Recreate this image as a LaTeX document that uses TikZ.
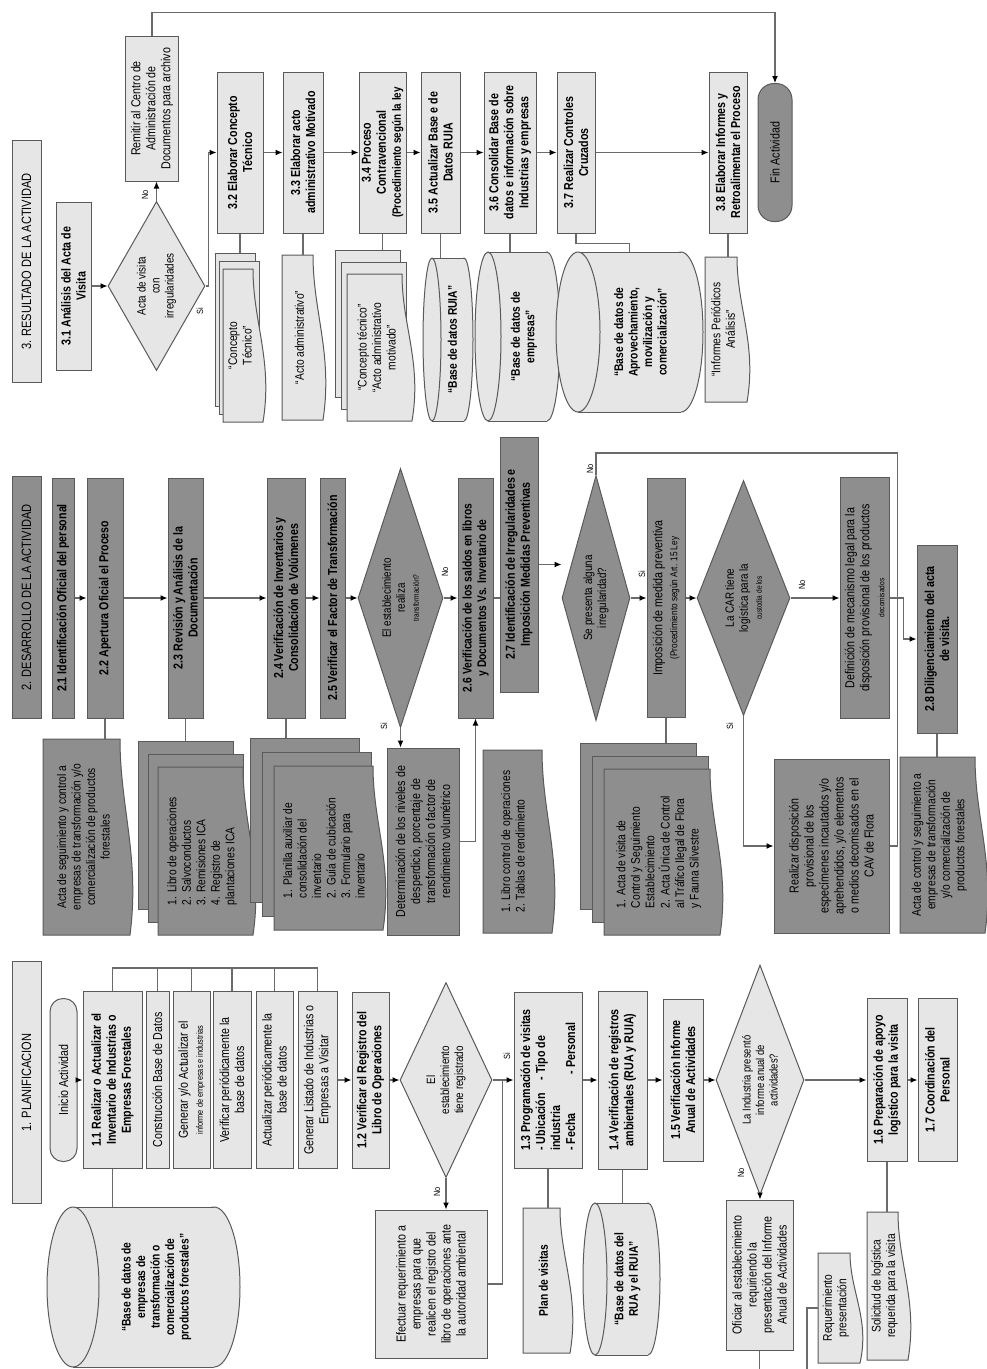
\documentclass[tikz,border=0pt]{standalone}
\usepackage{fontspec}
\setmainfont{Liberation Sans}[FakeStretch=0.82]
\usetikzlibrary{positioning,arrows.meta,shapes.geometric,calc}
\definecolor{boxlight}{HTML}{E6E6E6}
\definecolor{boxdark}{HTML}{8E8E8E}
\definecolor{boxline}{HTML}{5A5A5A}
\definecolor{connline}{HTML}{6A6A6A}

% one sheet of a document, wavy edge on the right
\newcommand{\docsheet}[5]{%
  \pgfmathsetmacro\shA{#1}\pgfmathsetmacro\shB{#2}%
  \pgfmathsetmacro\shC{#3}\pgfmathsetmacro\shD{#4}%
  \pgfmathsetmacro\shH{\shD-\shB}%
  \draw[#5] (\shA,\shB) -- ({\shC-10},\shB)
    .. controls ({\shC-10},{\shB+0.35*\shH}) and ({\shC+10},{\shB+0.6*\shH}) .. (\shC,\shD)
    -- (\shA,\shD) -- cycle;}
% single document: name, x1, y1, x2, y2, sheet style, text
\newcommand{\onedoc}[7]{%
  \docsheet{#2}{#3}{#4}{#5}{#6}%
  \coordinate (#1-t) at ({(#2+#4)/2},#3);%
  \coordinate (#1-l) at (#2,{(#3+#5)/2});%
  \node[doctext] (#1) at ({(#2+#4)/2-3},{(#3+#5)/2}) {#7};}
% stack of three documents: name, x1, y1, x2, y2, dx, dy, sheet style, text
\newcommand{\multidoc}[9]{%
  \draw[#8] (#2,#3) rectangle ({#4-2*#6},{#5-2*#7});%
  \draw[#8] ({#2+#6},{#3+#7}) rectangle ({#4-#6},{#5-#7});%
  \docsheet{#2+2*#6}{#3+2*#7}{#4}{#5}{#8}%
  \coordinate (#1-t) at ({(#2+#4)/2},#3);%
  \node[doctext] (#1) at ({(#2+2*#6+#4)/2-3},{(#3+2*#7+#5)/2}) {#9};}
% data base lying on its side: name, x1, y1, x2, y2, end radius, text
\newcommand{\dbase}[7]{%
  \pgfmathsetmacro\cyM{(#3+#5)/2}\pgfmathsetmacro\cyR{(#5-#3)/2}%
  \pgfmathsetmacro\cyL{#2+#6}\pgfmathsetmacro\cyE{#4-#6}%
  \draw[sheetL] (\cyE,\cyM) ellipse[x radius=#6pt, y radius=\cyR pt];%
  \fill[boxlight] (\cyL,#3) rectangle (\cyE,#5);%
  \draw[draw=boxline, line width=1pt] (\cyL,#3) -- (\cyE,#3) (\cyL,#5) -- (\cyE,#5);%
  \draw[sheetL] (\cyL,\cyM) ellipse[x radius=#6pt, y radius=\cyR pt];%
  \coordinate (#1-t) at ({(#2+#4)/2},#3);%
  \node[dbtext] (#1) at ({(#2+#4)/2+#6/2},\cyM) {#7};}

\begin{document}
\begin{tikzpicture}[x=1pt, y=-1pt,
  line/.style={draw=connline, line width=1.2pt},
  arr/.style={line, -{Latex[length=7pt, width=6pt, color=black]}},
  proc/.style={draw=boxline, line width=1pt, fill=boxlight, rotate=90, align=center,
               inner sep=1pt, font=\fontsize{13}{15}\selectfont\bfseries},
  sub/.style={proc, font=\fontsize{13}{15}\selectfont},
  dproc/.style={proc, fill=boxdark},
  dsub/.style={sub, fill=boxdark},
  term/.style={sub, rounded corners=13pt},
  hdr/.style={sub, font=\fontsize{13.5}{15}\selectfont, minimum width=242, minimum height=29},
  dec/.style={diamond, draw=boxline, line width=1pt, fill=boxlight, rotate=90,
              align=center, inner sep=0pt, font=\fontsize{12}{14}\selectfont},
  ddec/.style={dec, fill=boxdark},
  sheetL/.style={draw=boxline, line width=1pt, fill=boxlight},
  sheetD/.style={sheetL, fill=boxdark},
  doctext/.style={rotate=90, align=center, inner sep=0pt, font=\fontsize{12.5}{14.5}\selectfont},
  dbtext/.style={doctext, font=\fontsize{12.5}{14.5}\selectfont\bfseries},
  lab/.style={rotate=90, inner sep=1pt, font=\fontsize{9}{10}\selectfont}
]
\fill[white] (0,0) rectangle (987,1369);
\useasboundingbox (0,0) rectangle (987,1369);
% ----- lane headers -----
\node[hdr] (hd3) at (26.5,261.5) {3. RESULTADO DE LA ACTIVIDAD};
\node[hdr, fill=boxdark] (hd2) at (26.5,597.5) {2. DESARROLLO DE LA ACTIVIDAD};
\node[hdr] (hd1) at (26.5,1082.5) {1. PLANIFICACION};

% ----- lane 3: resultado -----
\node[proc, minimum width=168, minimum height=35] (n31) at (73.5,286) {3.1 Análisis del Acta de\\Visita};
\node[dec, aspect=1.75, minimum width=169, minimum height=97] (d31) at (156.5,286)
  {Acta de visita\\con\\irregularidades};
\node[sub, minimum width=145, minimum height=53] (nrem) at (152,108.5)
  {Remitir al Centro de\\Administración de\\Documentos para archivo};
\node[proc, minimum width=161, minimum height=46] (n32) at (240,152.5) {3.2 Elaborar Concepto\\Técnico};
\node[proc, minimum width=161, minimum height=40] (n33) at (303,152.5) {3.3 Elaborar acto\\administrativo Motivado};
\node[proc, minimum width=161, minimum height=47] (n34) at (382.5,152.5)
  {3.4 Proceso\\Contravencional\\{\fontsize{12}{13}\selectfont(Procedimiento según la ley}};
\node[proc, minimum width=161, minimum height=39] (n35) at (440.5,152.5) {3.5 Actualizar Base e de\\Datos RUIA};
\node[proc, minimum width=161, minimum height=52] (n36) at (510,152.5)
  {3.6 Consolidar Base de\\datos e información sobre\\Industrias y empresas};
\node[proc, minimum width=161, minimum height=38] (n37) at (576,152.5) {3.7 Realizar Controles\\Cruzados};
\node[proc, minimum width=161, minimum height=38] (n38) at (728,152.5) {3.8 Elaborar Informes y\\Retroalimentar el Proceso};
\node[term, fill=boxdark, rounded corners=16pt, minimum width=138, minimum height=34] (fin) at (775,152.5) {Fin Actividad};

\multidoc{m32}{215}{253}{263}{422}{4}{8}{sheetL}{“Concepto\\Técnico”}
\onedoc{m33}{282}{255}{323}{420}{sheetL}{“Acto administrativo”}
\multidoc{m34}{335}{250}{412}{421}{6}{12}{sheetL}{“Concepto técnico”\\“Acto administrativo\\motivado”}
\dbase{c35}{423}{258}{473}{421}{9}{“Base de datos RUIA”}
\dbase{c36}{475}{252}{560}{421}{13}{“Base de datos de\\empresas”}
\dbase{c37}{556}{252}{703}{412}{22}{“Base de datos de\\Aprovechamiento,\\movilización y\\comercialización”}
\onedoc{d38}{705}{257}{747}{402}{sheetL}{“Informes Periódicos\\Análisis”}

% ----- lane 2: desarrollo -----
\node[dproc, minimum width=240, minimum height=22] (n21) at (63,598) {2.1 Identificación Oficial del personal};
\node[dproc, minimum width=240, minimum height=36] (n22) at (105,598) {2.2 Apertura Oficial el Proceso};
\node[dproc, minimum width=240, minimum height=35] (n23) at (185.5,598) {2.3 Revisión y Análisis de la\\Documentación};
\node[dproc, minimum width=240, minimum height=38] (n24) at (286,598)
  {2.4 Verificación de Inventarios y\\Consolidación de Volúmenes};
\node[dproc, minimum width=240, minimum height=25] (n25) at (332.5,598) {2.5 Verificar el Factor de Transformación};
\node[ddec, aspect=3, minimum width=259, minimum height=85] (d25) at (400.5,598)
  {El establecimiento\\realiza\\{\fontsize{8}{9}\selectfont transformación?}};
\node[dproc, minimum width=240, minimum height=35, font=\fontsize{12.5}{14.5}\selectfont\bfseries] (n26) at (475.5,598)
  {2.6 Verificación de los saldos en libros\\y Documentos Vs. Inventario de};
\node[dproc, minimum width=255, minimum height=38] (n27) at (519,564.5)
  {2.7 Identificación de Irregularidades e\\Imposición Medidas Preventivas};
\node[ddec, aspect=3.6, minimum width=245, minimum height=68] (d27) at (596,598)
  {Se presenta alguna\\irregularidad?};
\node[dsub, minimum width=239, minimum height=38] (nimp) at (666,598)
  {Imposición de medida preventiva\\{\fontsize{10}{11}\selectfont(Procedimiento según Art. 15 Ley}};
\node[ddec, aspect=2.5, minimum width=235, minimum height=93] (dcar) at (743.5,598)
  {La CAR tiene\\logística para la\\{\fontsize{8}{9}\selectfont custodia de los}};
\node[dsub, minimum width=241, minimum height=49] (ndef) at (864.5,598)
  {Definición de mecanismo legal para la\\disposición provisional de los productos\\{\fontsize{8}{9}\selectfont decomisados}};
\node[dproc, minimum width=188, minimum height=40] (n28) at (937,639) {2.8 Diligenciamiento del acta\\de visita.};
\node[dsub, minimum width=187, minimum height=72] (ndet) at (423,841.5)
  {Determinación de los niveles de\\desperdicio, porcentaje de\\transformación o factor de\\rendimiento volumétrico};
\node[dsub, minimum width=174, minimum height=115] (nreal) at (831.5,846)
  {Realizar disposición\\provisional de los\\especímenes incautados y/o\\aprehendidos, y/o elementos\\o medios decomisados en el\\CAV de Flora};

\onedoc{d22}{43}{739}{130}{935}{sheetD}{Acta de seguimiento y control a\\empresas de transformación y/o\\comercialización de productos\\forestales}
\multidoc{m23}{138}{741}{253}{935}{10}{13}{sheetD}{\begin{tabular}{@{}l@{}}1. Libro de operaciones\\2. Salvoconductos\\3. Remisiones ICA\\4. Registro de\\plantaciones ICA\end{tabular}}
\multidoc{m24}{250}{738}{383}{930}{12}{14}{sheetD}{\begin{tabular}{@{}l@{}}1. Planilla auxiliar de\\consolidación del\\inventario\\2. Guía de cubicación\\3. Formulario para\\inventario\end{tabular}}
\onedoc{d26}{483}{750}{552}{933}{sheetD}{\begin{tabular}{@{}l@{}}1. Libro control de operaciones\\2. Tablas de rendimiento\end{tabular}}
\multidoc{mimp}{580}{743}{720}{935}{12}{13}{sheetD}{\begin{tabular}{@{}l@{}}1. Acta de visita de\\Control y Seguimiento\\Establecimiento\\2. Acta Única de Control\\al Tráfico Ilegal de Flora\\y Fauna Silvestre\end{tabular}}
\onedoc{d28}{900}{757}{985}{933}{sheetD}{Acta de control y seguimiento a\\empresas de transformación\\y/o comercialización de\\productos forestales}

% ----- lane 1: planificacion -----
\node[term, minimum width=163, minimum height=27] (ini) at (63.5,1080) {Inicio Actividad};
\node[proc, minimum width=177, minimum height=59] (n11) at (112.5,1080)
  {1.1 Realizar o Actualizar el\\Inventario de Industrias o\\Empresas Forestales};
\node[sub, minimum width=177, minimum height=23] (s1) at (157.5,1080) {Construcción Base de Datos};
\node[sub, minimum width=177, minimum height=37] (s2) at (191.5,1080)
  {Generar y/o Actualizar el\\{\fontsize{9}{10}\selectfont informe de empresas e industrias}};
\node[sub, minimum width=177, minimum height=38] (s3) at (232,1080) {Verificar periódicamente la\\base de datos};
\node[sub, minimum width=177, minimum height=37] (s4) at (274.5,1080) {Actualizar periódicamente la\\base de datos};
\node[sub, minimum width=177, minimum height=39] (s5) at (317.5,1080) {Generar Listado de Industrias o\\Empresas a Visitar};
\node[proc, minimum width=176, minimum height=37] (n12) at (370.5,1080) {1.2 Verificar el Registro del\\Libro de Operaciones};
\node[dec, aspect=2.1, minimum width=195, minimum height=92] (d12) at (446,1080)
  {El\\establecimiento\\tiene registrado};
\node[sub, minimum width=148, minimum height=112] (nefe) at (431,1284)
  {Efectuar requerimiento a\\empresas para que\\realicen el registro del\\libro de operaciones ante\\la autoridad ambiental};
\node[proc, align=left, minimum width=176, minimum height=68] (n13) at (548,1080)
  {1.3 Programación de visitas\\- Ubicación\quad - Tipo de\\industria\\- Fecha\qquad\quad - Personal};
\node[proc, minimum width=178, minimum height=49] (n14) at (622.5,1080)
  {1.4 Verificación de registros\\ambientales (RUA y RUIA)};
\node[proc, minimum width=162, minimum height=40] (n15) at (683,1080) {1.5 Verificación Informe\\Anual de Actividades};
\node[dec, aspect=2.6, minimum width=230, minimum height=88, font=\fontsize{11.5}{13.5}\selectfont] (d15) at (760,1080)
  {La Industria presentó\\informe anual de\\actividades?};
\node[sub, minimum width=150, minimum height=67] (nofi) at (759.5,1275)
  {Oficiar al establecimiento\\requiriendo la\\presentación del Informe\\Anual de Actividades};
\node[proc, minimum width=163, minimum height=40] (n16) at (887,1080) {1.6 Preparación de apoyo\\logístico para la visita};
\node[proc, minimum width=163, minimum height=39] (n17) at (937.5,1080) {1.7 Coordinación del\\Personal};

\dbase{c11}{47}{1207}{240}{1367}{26}{“Base de datos de\\empresas de\\transformación o\\comercialización de\\productos forestales”}
\onedoc{dplan}{523}{1208}{570}{1353}{sheetL}{\bfseries Plan de visitas}
\dbase{c14}{583}{1203}{660}{1355}{12}{“Base de datos del\\RUA y el RUIA”}
\onedoc{dreq}{818}{1253}{860}{1363}{sheetL}{Requerimiento\\presentación}
\onedoc{dsol}{867}{1212}{908}{1360}{sheetL}{Solicitud de logística\\requerida para la visita}

% ----- main flow, left to right -----
\foreach \a/\b in {n31/d31, n32/n33, n33/n34, n34/n35, n35/n36, n36/n37, n37/n38,
                   n21/n22, n22/n23, n23/n24, n24/n25, n25/d25, d25/n26, d27/nimp, nimp/dcar, dcar/ndef,
                   ini/n11, s5/n12, n12/d12, d12/n13, n13/n14, n14/n15, n15/d15, d15/n16, n16/n17}
  {\draw[arr] (\a.south) -- (\b.north);}
% ----- boxes to their records -----
\foreach \a/\b in {n32/m32, n33/m33, n34/m34, n35/c35, n36/c36, n38/d38,
                   n22/d22, n23/m23, n24/m24, nimp/mimp, n28/d28,
                   n11/c11, n13/dplan, n14/c14, n16/dsol}
  {\draw[line] (\a.west) -- (\a.west |- \b-t);}
\draw[line] (n37.west) -- ++(0,10) -| (c37-t);

% ----- lane 3 branches -----
\draw[arr] (d31.east) -- (d31.east |- nrem.west);
\draw[arr] (d31.south) -- ++(3,0) |- (n32.north);
\draw[arr] (nrem.east) -- ++(0,-23) -| (fin.east);
\node[lab] (l1) at (145,195) {No};
\node[lab] (l2) at (200,311) {Si};

% ----- lane 2 branches -----
\draw[arr] (d25.west) -- (d25.west |- ndet.east);
\draw[arr] (ndet.south) -| (n26.west);
\draw[line] (n26.south) -- (n26.south -| n27.north);
\draw[arr] (n27.south) -- (n27.south -| d27.north);
\draw[line] (d27.east) -- ++(0,-22) -| ($(nreal.south)+(8,0)$) -- (nreal.south);
\draw[arr] (dcar.west) |- (nreal.north);
\draw[arr] (ndef.south) -- ++(14,0) |- (n28.north);
\node[lab] (l3) at (445,572) {No};
\node[lab] (l4) at (384,726) {Si};
\node[lab] (l5) at (590,469) {No};
\node[lab] (l6) at (642,574) {Si};
\node[lab] (l7) at (802,585) {No};
\node[lab] (l8) at (730,726) {Si};

% ----- lane 1 branches -----
\coordinate (brk) at (0,968);
\draw[line] (n11.east) |- (brk -| s5.east) -- (s5.east);
\foreach \b in {s1,s2,s3,s4}{\draw[line] (\b.east) -- (\b.east |- brk);}
\draw[arr] (d12.west) -- (d12.west |- nefe.east);
\draw[line] (nefe.south) -| ($(d12.south)+(10,0)$);
\draw[arr] (d15.west) -- (d15.west |- nofi.east);
\draw[line] (nofi.west) -- ++(0,19);
\draw[line] (dreq-l) -- ++(-11,0) -- ++(0,62);
\node[lab] (l9) at (437,1192) {No};
\node[lab] (l10) at (507,1056) {Si};
\node[lab] (l11) at (741,1173) {No};
\end{tikzpicture}
\end{document}
